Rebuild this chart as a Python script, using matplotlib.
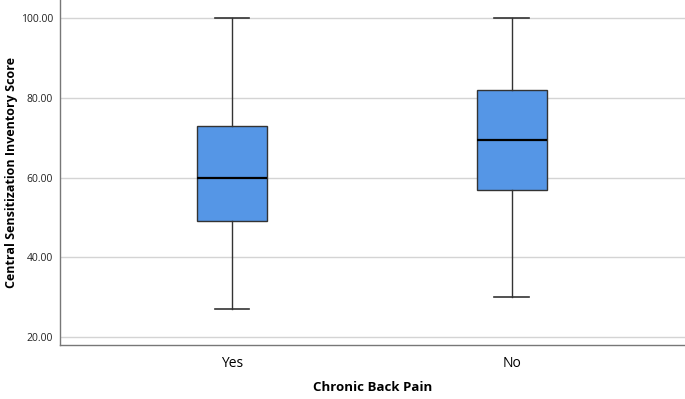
import matplotlib
matplotlib.use("Agg")
import matplotlib.pyplot as plt

# box plot summary values
groups = ["Yes", "No"]
whislo = [27, 30]
q1 = [49, 57]
med = [60, 69.5]
q3 = [73, 82]
whishi = [100, 100]

yticks = [20, 40, 60, 80, 100]

plt.rcParams['font.family'] = ['Open Sans', 'DejaVu Sans']

fig = plt.figure(figsize=(6.85, 3.99), dpi=100)
ax = fig.add_axes([0.0876, 0.135, 0.9124, 0.865])

stats = []
for i in range(len(groups)):
    stats.append(dict(label=groups[i], whislo=whislo[i], q1=q1[i], med=med[i],
                      q3=q3[i], whishi=whishi[i], fliers=[]))

ax.bxp(stats, positions=[1, 2], widths=0.25, patch_artist=True, showfliers=False,
       boxprops=dict(facecolor='#5596e6', edgecolor='#333333', linewidth=1.0),
       medianprops=dict(color='black', linewidth=1.6),
       whiskerprops=dict(color='#333333', linewidth=1.0),
       capprops=dict(color='#333333', linewidth=1.2),
       capwidths=0.125, zorder=3)

ax.set_xlim(0.385, 2.62)
ax.set_ylim(18, 104.5)
ax.set_yticks(yticks)
ax.set_yticklabels(["%.2f" % v for v in yticks], fontsize=7.5, color='#222222')
ax.set_xticks([1, 2])
ax.set_xticklabels(groups, fontsize=10)
ax.tick_params(axis='both', length=0, pad=5)
ax.tick_params(axis='x', pad=8)

ax.yaxis.grid(True, color='#d4d4d4', linewidth=1.0, zorder=0)
ax.set_axisbelow(True)
for s in ['top', 'right']:
    ax.spines[s].set_visible(False)
for s in ['left', 'bottom']:
    ax.spines[s].set_color('#777777')
    ax.spines[s].set_linewidth(1.0)

ax.set_ylabel("Central Sensitization Inventory Score", fontsize=9, fontweight='bold')
ax.set_xlabel("Chronic Back Pain", fontsize=9.5, fontweight='bold')
ax.yaxis.set_label_coords(-0.068, 0.5)
ax.xaxis.set_label_coords(0.5, -0.105)

plt.savefig("out.png", dpi=100)
